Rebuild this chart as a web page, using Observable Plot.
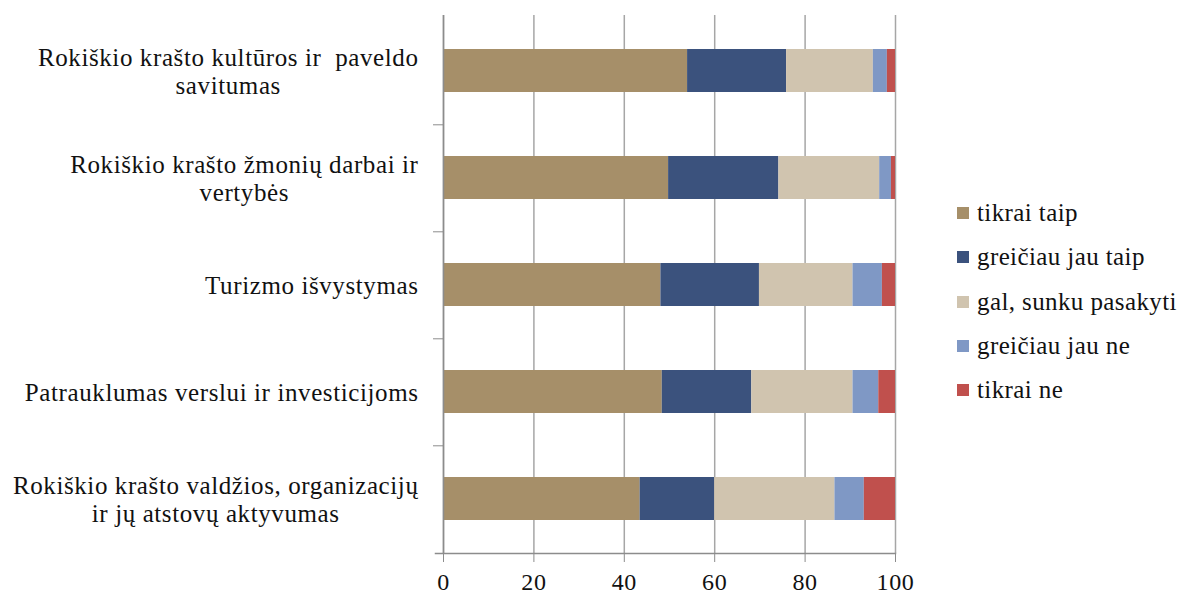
<!DOCTYPE html>
<html>
<head>
<meta charset="utf-8">
<script src="https://cdn.jsdelivr.net/npm/d3@7"></script>
<script src="https://cdn.jsdelivr.net/npm/@observablehq/plot@0.6"></script>
<style>
  html, body { margin: 0; padding: 0; background: #fff; }
  #wrap { position: relative; width: 1184px; height: 594px; font-family: 'Liberation Serif', 'Times New Roman', serif; }
  #wrap svg text { white-space: pre; }
  #legend { position: absolute; left: 957px; top: 191px; font-size: 25px; color: #111; letter-spacing: 0.4px; }
  #legend .row { height: 44.3px; display: flex; align-items: center; white-space: nowrap; }
  #legend .sw { width: 12px; height: 12px; margin-right: 8px; flex: none; }
</style>
</head>
<body>
<div id="wrap"></div>
<script>
// ---- data ----
const categories = [
  "Rokiškio krašto kultūros ir  paveldo savitumas",
  "Rokiškio krašto žmonių darbai ir vertybės",
  "Turizmo išvystymas",
  "Patrauklumas verslui ir investicijoms",
  "Rokiškio krašto valdžios, organizacijų ir jų atstovų aktyvumas"
];
const categoryLabels = [
  "Rokiškio krašto kultūros ir  paveldo\nsavitumas",
  "Rokiškio krašto žmonių darbai ir\nvertybės",
  "Turizmo išvystymas",
  "Patrauklumas verslui ir investicijoms",
  "Rokiškio krašto valdžios, organizacijų\nir jų atstovų aktyvumas"
];
const responses = ["tikrai taip", "greičiau jau taip", "gal, sunku pasakyti", "greičiau jau ne", "tikrai ne"];
const tikraiTaip      = [54.0, 49.8, 48.1, 48.4, 43.5];
const greiciauJauTaip = [21.9, 24.4, 21.8, 19.8, 16.5];
const galSunku        = [19.2, 22.3, 20.7, 22.4, 26.6];
const greiciauJauNe   = [3.1, 2.6, 6.5, 5.7, 6.5];
const tikraiNe        = [1.8, 0.9, 2.9, 3.7, 6.9];
const xTicks = [0, 20, 40, 60, 80, 100];
const colors = ["#A68F69", "#3B527D", "#D0C4AF", "#7F98C5", "#C0504D"];

// ---- build table ----
const series = [tikraiTaip, greiciauJauTaip, galSunku, greiciauJauNe, tikraiNe];
const data = [];
categories.forEach((c, i) => {
  responses.forEach((r, j) => data.push({category: c, response: r, value: series[j][i]}));
});
const labelMap = new Map(categories.map((c, i) => [c, categoryLabels[i]]));

// ---- layout ----
const W = 1184, H = 594;
const mTop = 15, mBottom = 41, mLeft = 443, mRight = 289;
const step = (H - mTop - mBottom) / categories.length;
const fontSize = 25;
const letterSpacing = 0.6;
const fontFamily = "'Liberation Serif', 'Times New Roman', serif";
const labelGap = 25;

// measure label widths to center multi-line labels against a right edge
const ctx = document.createElement("canvas").getContext("2d");
ctx.font = `${fontSize}px ${fontFamily}`;
function labelWidth(s) {
  return Math.max(...s.split("\n").map(l => ctx.measureText(l).width + l.length * letterSpacing));
}

const labelAxes = categories.map(c => Plot.axisY({
  ticks: [c],
  label: null,
  tickSize: 0,
  tickPadding: 0,
  textAnchor: "middle",
  dx: -(labelGap + labelWidth(labelMap.get(c)) / 2),
  fontSize,
  lineHeight: 1.12,
  fill: "#111",
  tickFormat: d => labelMap.get(d)
}));

const chart = Plot.plot({
  width: W,
  height: H,
  marginTop: mTop,
  marginBottom: mBottom,
  marginLeft: mLeft,
  marginRight: mRight,
  style: {fontFamily, fontSize: fontSize + "px", background: "#fff", letterSpacing: letterSpacing + "px"},
  x: {domain: [0, 100], axis: null},
  y: {domain: categories, paddingInner: 0.6, paddingOuter: 0.3, axis: null},
  color: {domain: responses, range: colors},
  marks: [
    Plot.gridX(xTicks, {stroke: "#A6A6A6", strokeOpacity: 1, strokeWidth: 1.5}),
    Plot.barX(data, Plot.stackX({x: "value", y: "category", fill: "response", order: responses})),
    Plot.ruleX([0], {stroke: "#8C8C8C", strokeWidth: 1.5}),
    Plot.frame({anchor: "bottom", stroke: "#8C8C8C", strokeWidth: 1.5, insetLeft: -8}),
    Plot.axisX(xTicks, {label: null, tickSize: 9, tickPadding: 10, stroke: "#8C8C8C", fill: "#111", fontSize: 24, tickFormat: d => String(d)}),
    Plot.axisY({ticks: categories.slice(0, 4), label: null, tickSize: 10, dy: step / 2, stroke: "#8C8C8C", tickFormat: () => ""}),
    ...labelAxes
  ]
});
const wrap = document.getElementById("wrap");
wrap.appendChild(chart);

// legend
const legend = document.createElement("div");
legend.id = "legend";
responses.forEach((r, i) => {
  const row = document.createElement("div");
  row.className = "row";
  const sw = document.createElement("span");
  sw.className = "sw";
  sw.style.background = colors[i];
  const t = document.createElement("span");
  t.textContent = r;
  row.appendChild(sw);
  row.appendChild(t);
  legend.appendChild(row);
});
wrap.appendChild(legend);
</script>
</body>
</html>
